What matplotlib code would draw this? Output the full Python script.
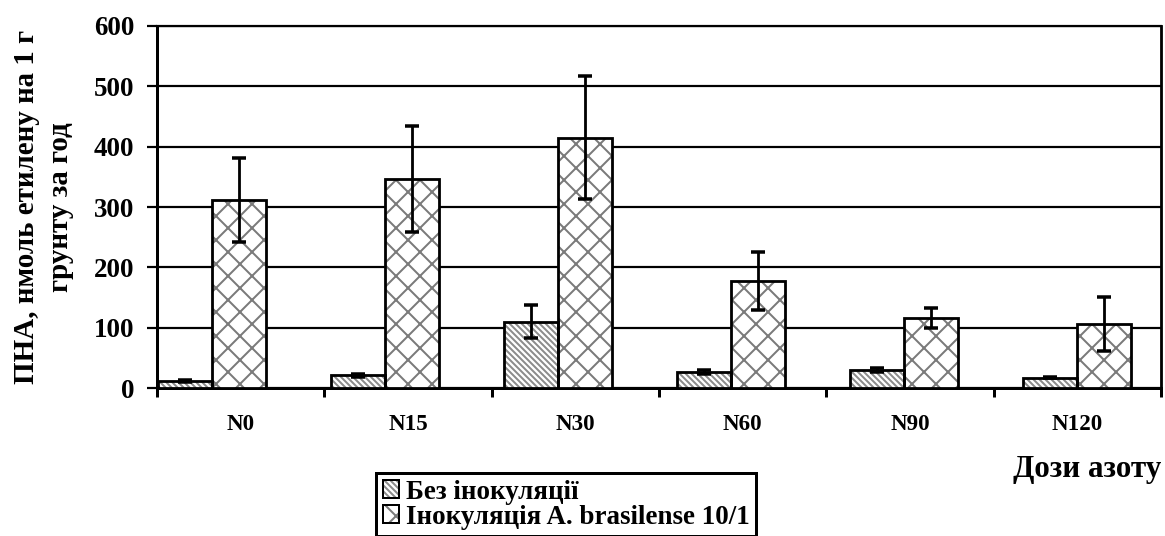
import matplotlib
matplotlib.use("Agg")
import matplotlib.pyplot as plt
from matplotlib.patches import Patch
from matplotlib.legend_handler import HandlerTuple
import numpy as np

# data
categories = ["N0", "N15", "N30", "N60", "N90", "N120"]
no_inoc = [12, 21, 110, 27, 30, 17]
no_inoc_err = [2, 2, 27, 3, 3, 1]
inoc = [312, 346, 415, 178, 116, 106]
inoc_err = [70, 88, 102, 48, 17, 45]
series_names = ["Без інокуляції", "Інокуляція A. brasilense 10/1"]

# figure is drawn at 72 dpi, so 1 pt == 1 px (also keeps the hatch spacing close)
DPI = 72
plt.rcParams['font.family'] = ['Liberation Serif', 'DejaVu Serif']
plt.rcParams['font.weight'] = 'bold'
plt.rcParams['hatch.linewidth'] = 2

fig = plt.figure(figsize=(1165 / DPI, 536 / DPI), dpi=DPI)
ax = fig.add_axes([0.1348, 0.2761, 0.8618, 0.6754])

idx = np.arange(len(categories))
step = 1.034   # bar groups in the original drift slightly against the ticks
width = 0.323
x1 = idx * step - 0.333
x2 = idx * step - 0.010

hatch_grey = '#7a7a7a'
diag_grey = '#8c8c8c'
diag = '\\\\\\\\'
# hatch drawn first in grey, outline on top in black
ax.bar(x1, no_inoc, width, color='white', edgecolor=diag_grey, linewidth=0, hatch=diag, zorder=3)
ax.bar(x1, no_inoc, width, fill=False, edgecolor='black', linewidth=2.8, zorder=4)
ax.bar(x2, inoc, width, color='white', edgecolor=hatch_grey, linewidth=0, hatch='x', zorder=3)
ax.bar(x2, inoc, width, fill=False, edgecolor='black', linewidth=2.8, zorder=4)

ax.errorbar(x1, no_inoc, yerr=no_inoc_err, fmt='none', ecolor='black',
            elinewidth=2.8, capsize=7, capthick=3.5, zorder=5)
ax.errorbar(x2, inoc, yerr=inoc_err, fmt='none', ecolor='black',
            elinewidth=2.8, capsize=7, capthick=3.5, zorder=5)

ax.set_xlim(-0.5, len(categories) - 0.5)
ax.set_ylim(0, 600)
ax.set_yticks(range(0, 601, 100))
ax.yaxis.grid(True, color='black', linewidth=2.2, zorder=0)
ax.set_axisbelow(True)

ax.set_xticks(idx, categories, fontsize=23)
ax.set_xticks(np.arange(-0.5, len(categories)), minor=True)
ax.tick_params(axis='x', which='major', length=0, pad=26)
ax.tick_params(axis='x', which='minor', length=9, width=3, direction='out')
ax.tick_params(axis='y', length=10, width=2.2, direction='out', labelsize=27, pad=13)
for lab in ax.get_yticklabels() + ax.get_xticklabels():
    lab.set_fontweight('bold')

for side in ['left', 'bottom']:
    ax.spines[side].set_linewidth(3)
ax.spines['top'].set_linewidth(2.2)
ax.spines['right'].set_linewidth(2.8)

ax.set_ylabel("ПНА, нмоль етилену на 1 г\nгрунту за год", fontsize=29,
              fontweight='bold', linespacing=1.3, labelpad=20)

fig.text(0.997, 0.125, "Дози азоту", fontsize=31, fontweight='bold',
         ha='right', va='center')

h1 = (Patch(facecolor='white', edgecolor=diag_grey, linewidth=0, hatch=diag),
      Patch(fill=False, edgecolor='black', linewidth=2))
h2 = (Patch(facecolor='white', edgecolor=hatch_grey, linewidth=0, hatch='x'),
      Patch(fill=False, edgecolor='black', linewidth=2))
leg = fig.legend([h1, h2], series_names, handler_map={tuple: HandlerTuple(ndivide=1)},
                 loc='upper left', bbox_to_anchor=(0.323, 0.118), fancybox=False,
                 edgecolor='black', framealpha=1, borderpad=0.25, handlelength=0.6,
                 handleheight=0.6, handletextpad=0.25, labelspacing=0.0,
                 borderaxespad=0, prop={'size': 27, 'weight': 'bold'})
leg.get_frame().set_linewidth(3)

fig.savefig("out.png", dpi=DPI)
